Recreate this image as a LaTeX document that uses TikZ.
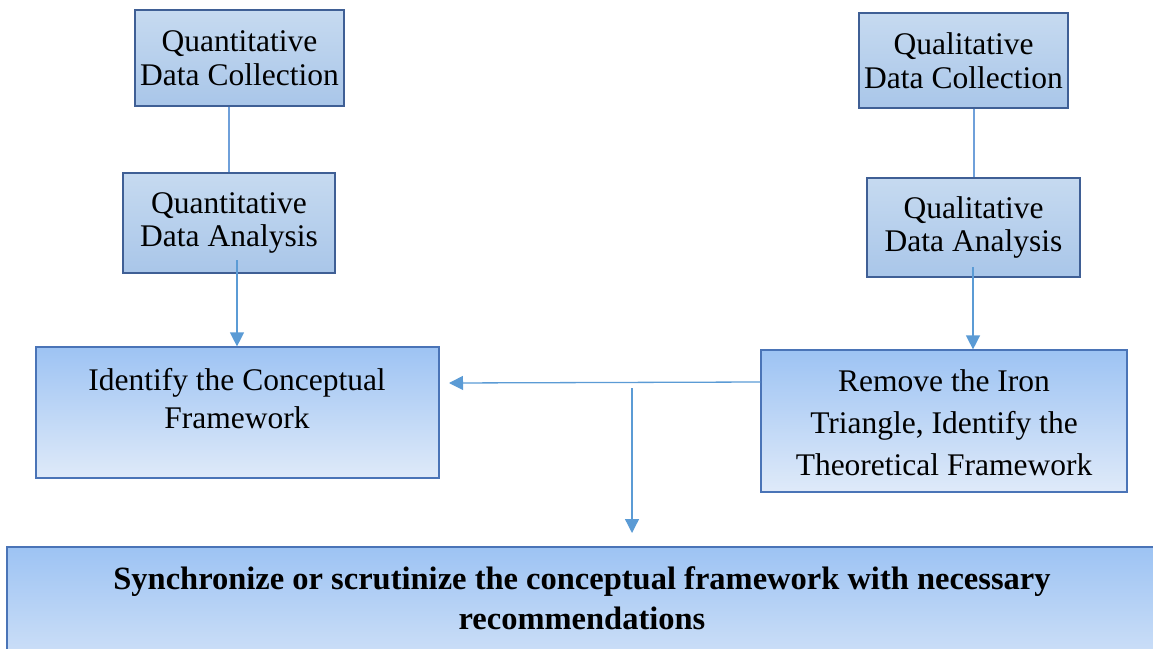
\documentclass[tikz,border=0pt]{standalone}
\usepackage{fontspec}
\setmainfont{Liberation Serif}
\usetikzlibrary{arrows.meta,calc}
\definecolor{darkb}{HTML}{3F5F95}
\definecolor{midb}{HTML}{4A74B7}
\definecolor{arrb}{HTML}{5B9BD5}
\definecolor{linb}{HTML}{6FA0DA}
\definecolor{smtop}{HTML}{C6DAF0}
\definecolor{smbot}{HTML}{A9C6E9}
\definecolor{bgtop}{HTML}{9DC3F3}
\definecolor{bgbot}{HTML}{DFEAF9}
\begin{document}
\begin{tikzpicture}[x=1pt,y=-1pt,
  smallbox/.style={draw=darkb, line width=2.5pt, top color=smtop, bottom color=smbot,
    align=center, inner sep=0pt, font=\fontsize{31.5}{33.5}\selectfont},
  bigbox/.style={draw=midb, line width=1.2pt, top color=bgtop, bottom color=bgbot,
    inner sep=0pt},
  txt/.style={align=center, inner sep=0pt},
  conn/.style={draw=linb, line width=2pt},
  arr/.style={draw=arrb, line width=1.3pt, -{Triangle[width=14pt,length=14pt]}}]
\useasboundingbox (0,0) rectangle (1153,648);
% small boxes
\node[smallbox, minimum width=209pt, minimum height=96pt] (qc) at (239.5,58) {Quantitative\\Data Collection};
\node[smallbox, minimum width=212pt, minimum height=100pt] (qa) at (229,223) {Quantitative\\Data Analysis};
\node[smallbox, minimum width=209pt, minimum height=95pt] (lc) at (963.5,60.5) {Qualitative\\Data Collection};
\node[smallbox, minimum width=213pt, minimum height=99pt] (la) at (973.5,227.5) {Qualitative\\Data Analysis};
% big boxes
\node[bigbox, minimum width=403pt, minimum height=131pt] (cf) at (237.5,412.5) {};
\node[txt, font=\fontsize{31.5}{38}\selectfont] (cft) at (237,399) {Identify the Conceptual\\Framework};
\node[bigbox, minimum width=366pt, minimum height=142pt] (tf) at (944,421) {};
\node[txt, font=\fontsize{31.5}{42}\selectfont] (tft) at (944,423) {Remove the Iron\\Triangle, Identify the\\Theoretical Framework};
\path[bigbox] (7,547) rectangle (1170,700);
\node[txt, font=\bfseries\fontsize{32.5}{40}\selectfont] (sy) at (582,598) {Synchronize or scrutinize the conceptual framework with necessary\\recommendations};
% connectors
\coordinate (a1s) at (237,260);
\coordinate (a2s) at (973,267);
\coordinate (hend) at (449,383);
\coordinate (vs) at (632,388);
\coordinate (ve) at (632,533);
\draw[conn] (qc.south -| 229,0) -- (qa.north -| 229,0);
\draw[conn] (lc.south -| 974,0) -- (la.north -| 974,0);
\draw[arr] (a1s) -- (a1s |- cf.north);
\draw[arr] (a2s) -- (a2s |- tf.north);
\draw[arr] (tf.west |- 0,382) -- (hend);
\draw[arr] (vs) -- (ve);
\end{tikzpicture}
\end{document}
